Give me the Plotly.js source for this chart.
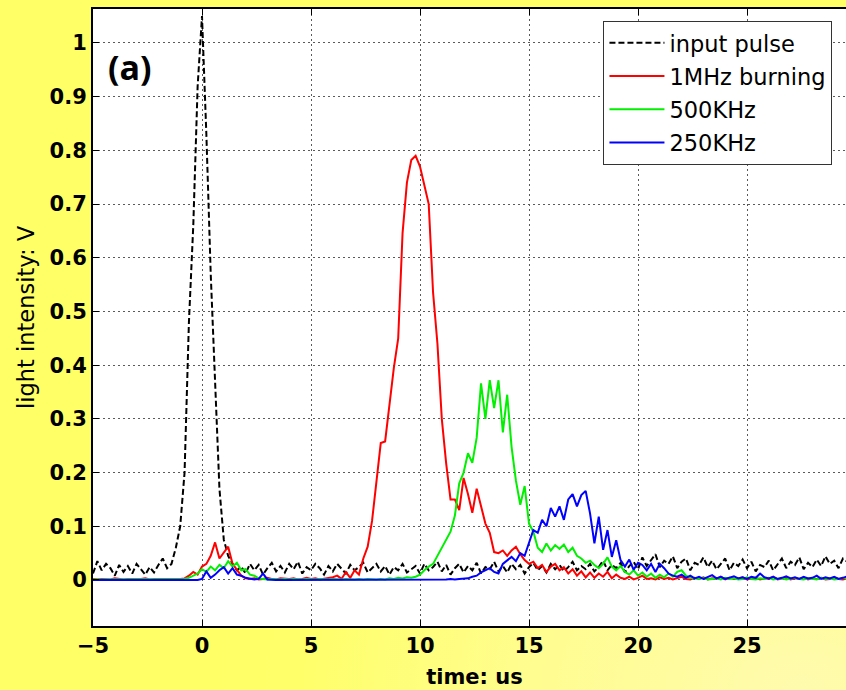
<!DOCTYPE html>
<html>
<head>
<meta charset="utf-8">
<script src="https://cdn.plot.ly/plotly-3.0.1.min.js"></script>
<style>
  html, body { margin: 0; padding: 0; width: 846px; height: 690px; overflow: hidden;
    background: radial-gradient(ellipse 70% 60% at 95% 100%, #fffbae 0%, #fffd90 45%, #ffff6a 85%, #ffff66 100%); }
  #chart { width: 860px; height: 690px; }
</style>
</head>
<body>
<div id="chart"></div>
<script>
// ---- data ----
const timeStart = -5;      // us
const timeStep = 0.2;      // us, sampling of every trace
const seriesNames = ["input pulse", "1MHz burning", "500KHz", "250KHz"];
const xTickVals = [-5, 0, 5, 10, 15, 20, 25];

const inputPulse = [
  0.012,0.035,0.018,0.030,0.022,0.008,0.028,0.015,0.026,0.012,
  0.030,0.020,0.010,0.024,0.014,0.028,0.040,0.022,
  0.030,0.060,0.100,0.200,0.480,0.660,0.920,1.050,0.830,0.570,0.370,0.170,0.075,0.045,0.030,0.018,
  0.025,0.012,0.030,0.018,0.028,0.010,0.022,0.032,0.016,0.026,
  0.014,0.030,0.020,0.034,0.012,0.024,0.018,0.030,0.022,0.010,
  0.026,0.016,0.030,0.020,0.012,0.028,0.018,0.024,0.032,0.014,
  0.022,0.030,0.016,0.026,0.010,0.024,0.018,0.030,0.014,0.020,
  0.026,0.012,0.030,0.018,0.024,0.034,0.016,0.028,0.010,0.022,
  0.030,0.014,0.026,0.018,0.032,0.012,0.024,0.020,0.034,0.016,
  0.026,0.014,0.030,0.020,0.028,0.012,0.024,0.032,0.018,0.026,
  0.014,0.030,0.020,0.028,0.016,0.024,0.034,0.018,0.026,0.020,
  0.030,0.016,0.024,0.036,0.018,0.028,0.022,0.032,0.014,0.026,
  0.034,0.020,0.042,0.026,0.038,0.048,0.024,0.036,0.030,0.044,
  0.022,0.034,0.040,0.018,0.032,0.028,0.042,0.024,0.036,0.020,
  0.030,0.040,0.018,0.032,0.026,0.038,0.022,0.034,0.016,0.028,
  0.024,0.036,0.018,0.030,0.040,0.022,0.034,0.028,0.042,0.020,
  0.032,0.024,0.038,0.026,0.044,0.030,0.036,0.022,0.040,0.034,
  0.028,0.036
];

const burn1MHz = [
  0.002,0.001,0.002,0.002,0.001,0.003,0.002,0.001,0.002,0.002,
  0.001,0.002,0.003,0.001,0.002,0.002,0.001,0.002,0.002,0.001,0.002,
  0.003,0.008,0.015,0.010,0.025,0.030,0.045,0.070,0.040,0.050,0.062,0.030,0.020,0.008,0.003,
  0.002,0.003,0.001,0.002,0.004,0.002,0.001,0.003,0.002,0.002,
  0.003,0.001,0.002,0.004,0.002,0.003,0.001,0.002,0.003,0.005,
  0.008,0.002,0.015,0.004,0.018,0.010,0.040,0.062,0.110,0.180,
  0.255,0.258,0.325,0.395,0.450,0.646,0.740,0.782,0.790,0.770,
  0.735,0.700,0.535,0.440,0.300,0.217,0.150,0.150,0.130,0.190,
  0.160,0.125,0.170,0.137,0.105,0.088,0.052,0.050,0.055,0.045,
  0.055,0.062,0.048,0.037,0.030,0.034,0.022,0.028,0.015,0.025,
  0.030,0.018,0.024,0.012,0.020,0.008,0.016,0.005,0.014,0.004,
  0.012,0.006,0.015,0.003,0.010,0.004,
  0.002,0.006,0.001,0.004,0.008,0.002,0.003,0.001,0.005,0.002,
  0.004,0.001,0.003,0.006,0.002,0.001,0.004,0.002,0.005,0.001,
  0.003,0.002,0.006,0.001,0.004,0.002,0.003,0.005,0.001,0.002,
  0.004,0.001,0.003,0.002,0.006,0.001,0.002,0.004,0.001,0.003,
  0.002,0.005,0.001,0.003,0.002,0.004,0.001,0.002,0.005,0.002,
  0.001,0.003,0.002,0.004
];

const burn500KHz = [
  0.001,0.001,0.001,0.001,0.001,0.001,0.001,0.001,0.001,0.001,
  0.001,0.001,0.001,0.001,0.001,0.001,0.001,0.001,0.001,0.001,0.001,
  0.002,0.004,0.008,0.012,0.020,0.015,0.025,0.018,0.028,0.022,0.035,0.025,0.032,0.018,0.020,0.010,0.008,0.003,
  0.002,0.001,0.002,0.001,0.001,0.002,0.001,0.002,0.001,0.001,
  0.002,0.001,0.001,0.002,0.001,0.001,0.002,0.001,0.001,0.002,
  0.001,0.001,0.002,0.001,0.002,0.001,0.001,
  0.002,0.001,0.003,0.002,0.004,0.003,0.005,0.004,
  0.006,0.010,0.018,0.025,0.030,0.045,0.060,0.075,0.090,0.120,
  0.180,0.200,0.236,0.218,0.265,0.366,0.300,0.372,0.320,0.372,
  0.275,0.345,0.248,0.185,0.140,0.175,0.105,0.090,0.060,0.052,
  0.068,0.055,0.065,0.058,0.066,0.052,0.060,0.045,0.040,0.032,
  0.036,0.028,0.022,0.030,0.042,0.025,0.018,0.026,0.015,0.010,
  0.018,0.008,0.014,0.006,0.012,0.004,0.010,0.005,0.012,0.006,
  0.015,0.018,0.008,0.004,
  0.003,0.002,0.004,0.001,0.002,0.003,0.001,0.004,0.002,0.003,
  0.001,0.002,0.005,0.002,0.001,0.003,0.002,0.004,0.001,0.002,
  0.003,0.001,0.002,0.004,0.002,0.001,0.003,0.002,0.001,0.004,
  0.002,0.003,0.001,0.002,0.004,0.002,0.001,0.003
];

const burn250KHz = [
  0.000,0.000,0.000,0.000,0.000,0.000,0.000,0.000,0.000,0.000,
  0.000,0.000,0.000,0.000,0.000,0.000,0.000,0.000,0.000,0.000,
  0.000,0.000,0.000,0.000,0.000,
  0.002,0.016,0.004,0.010,0.018,0.024,0.012,0.022,0.010,0.008,0.004,0.002,0.001,0.002,0.012,0.001,
  0.000,0.000,0.000,0.000,0.000,0.000,0.000,0.000,0.000,0.000,
  0.000,0.000,0.000,0.000,0.000,0.000,0.000,0.000,0.000,0.000,
  0.000,0.001,0.000,0.000,0.001,0.000,0.000,0.001,0.000,0.000,
  0.001,0.000,0.000,0.001,0.000,0.001,0.000,0.000,0.001,0.000,
  0.001,0.002,0.001,0.002,0.002,0.003,0.006,0.008,0.014,0.018,
  0.022,0.015,0.012,0.030,0.037,0.043,0.035,0.050,0.045,0.070,
  0.093,0.088,0.112,0.100,0.134,0.118,0.137,0.112,0.150,0.160,
  0.137,0.158,0.166,0.124,0.068,0.118,0.056,0.093,0.043,0.074,
  0.037,0.025,0.038,0.019,0.032,0.028,0.018,0.030,0.015,0.030,
  0.022,0.012,0.008,0.006,0.010,
  0.004,0.008,0.003,0.006,0.002,0.005,0.009,0.003,0.006,0.002,
  0.004,0.007,0.003,0.005,0.002,0.006,0.004,0.012,0.005,0.003,
  0.006,0.002,0.004,0.007,0.003,0.005,0.002,0.006,0.003,0.004,
  0.008,0.002,0.005,0.003,0.006,0.002,0.004,0.007,0.003,0.005
];

const seriesValues = [inputPulse, burn1MHz, burn500KHz, burn250KHz];
const seriesColors = ["#000000", "#ff0000", "#00f000", "#0000ff"];

// ---- build traces ----
const timeOf = (arr) => arr.map((_, i) => +(timeStart + timeStep * i).toFixed(3));
const traces = seriesValues.map((vals, k) => ({
  type: "scatter",
  mode: "lines",
  name: seriesNames[k],
  legendgroup: "g" + k,
  x: timeOf(vals),
  y: vals,
  line: { color: seriesColors[k], width: 2, dash: k === 0 ? "6px,3px" : "solid" },
  hoverinfo: "skip"
}));

const tickFont = { family: "DejaVu Sans", size: 21, weight: "bold", color: "#000" };
const axisCommon = {
  ticks: "inside", ticklen: 6, tickwidth: 1, tickcolor: "#000",
  showline: true, linecolor: "#000", linewidth: 2, mirror: "ticks",
  showgrid: true, gridcolor: "#5a5a5a", griddash: "2px,3px", gridwidth: 1,
  zeroline: false, tickfont: tickFont
};

const layout = {
  width: 860, height: 690,
  margin: { l: 93, r: 4, t: 9, b: 64 },
  paper_bgcolor: "rgba(0,0,0,0)",
  plot_bgcolor: "#ffffff",
  xaxis: Object.assign({}, axisCommon, {
    range: [-5, 30], tickvals: xTickVals,
    title: { text: "time: us", font: { family: "DejaVu Sans", size: 21, weight: "bold", color: "#000" }, standoff: 12 }
  }),
  yaxis: Object.assign({}, axisCommon, {
    range: [-0.0857, 1.0633], tick0: 0, dtick: 0.1,
    title: { text: "light intensity: V", font: { family: "DejaVu Sans", size: 22.5, color: "#000" }, standoff: 9 }
  }),
  showlegend: true,
  legend: {
    x: 0.669, y: 0.981, xanchor: "left", yanchor: "top",
    bgcolor: "#ffffff", bordercolor: "#333333", borderwidth: 1,
    font: { family: "DejaVu Sans", size: 22.5, color: "#000" },
    itemwidth: 55, tracegroupgap: 1
  },
  annotations: [{
    xref: "paper", yref: "paper", x: 0.0485, y: 0.906,
    xanchor: "center", yanchor: "middle",
    text: "<b>(a)</b>", showarrow: false,
    font: { family: "Open Sans", size: 34, color: "#000" }
  }]
};

Plotly.newPlot("chart", traces, layout, { displayModeBar: false, staticPlot: true });
</script>
</body>
</html>
